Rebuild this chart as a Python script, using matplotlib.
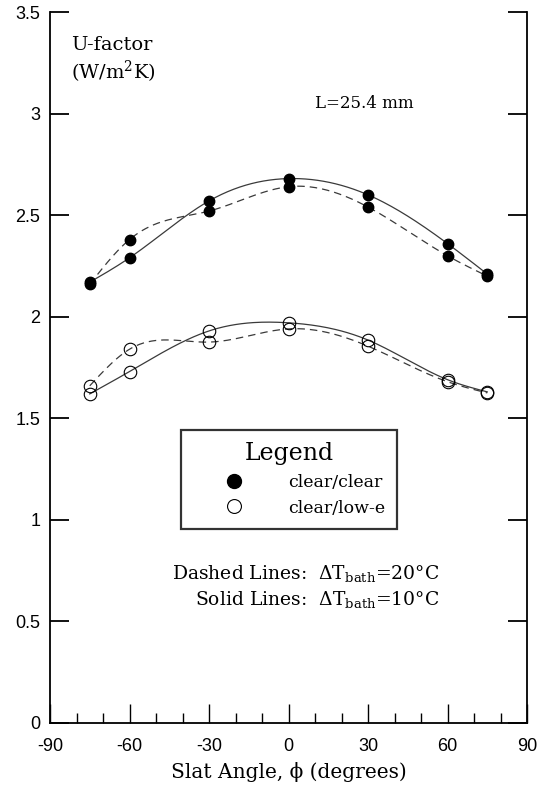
import numpy as np
import matplotlib
matplotlib.use("Agg")
import matplotlib.pyplot as plt
from matplotlib.lines import Line2D

plt.rcParams['mathtext.fontset'] = 'dejavuserif'
plt.rcParams['axes.unicode_minus'] = False

# slat angles (degrees)
angle = [-75, -60, -30, 0, 30, 60, 75]

# clear/clear glazing
cc_10 = [2.17, 2.29, 2.57, 2.68, 2.60, 2.36, 2.21]   # solid, dT bath = 10C
cc_20 = [2.16, 2.38, 2.52, 2.64, 2.54, 2.30, 2.20]   # dashed, dT bath = 20C

# clear/low-e glazing
le_10 = [1.62, 1.73, 1.93, 1.97, 1.885, 1.69, 1.63]
le_20 = [1.66, 1.84, 1.875, 1.94, 1.855, 1.68, 1.625]

yticks = [0, 0.5, 1, 1.5, 2, 2.5, 3, 3.5]
ytick_labels = ['0', '0.5', '1', '1.5', '2', '2.5', '3', '3.5']
xticks = [-90, -60, -30, 0, 30, 60, 90]


def natural_spline(x, y, n=200):
    # plain natural cubic spline, just to draw the smooth curve
    x = np.asarray(x, float)
    y = np.asarray(y, float)
    k = len(x)
    h = np.diff(x)
    A = np.zeros((k, k))
    b = np.zeros(k)
    A[0, 0] = 1
    A[-1, -1] = 1
    for i in range(1, k - 1):
        A[i, i - 1] = h[i - 1]
        A[i, i] = 2 * (h[i - 1] + h[i])
        A[i, i + 1] = h[i]
        b[i] = 6 * ((y[i + 1] - y[i]) / h[i] - (y[i] - y[i - 1]) / h[i - 1])
    M = np.linalg.solve(A, b)
    xs = np.linspace(x[0], x[-1], n)
    idx = np.clip(np.searchsorted(x, xs) - 1, 0, k - 2)
    x0, x1 = x[idx], x[idx + 1]
    hh = x1 - x0
    t0 = x1 - xs
    t1 = xs - x0
    ys = (M[idx] * t0**3 / (6 * hh) + M[idx + 1] * t1**3 / (6 * hh)
          + (y[idx] / hh - M[idx] * hh / 6) * t0
          + (y[idx + 1] / hh - M[idx + 1] * hh / 6) * t1)
    return xs, ys


fig = plt.figure(figsize=(5.46, 7.86), dpi=100)
ax = fig.add_axes([0.0916, 0.0802, 0.8736, 0.9045])

line_col = '#3a3a3a'
for ys, style in [(cc_10, '-'), (cc_20, '--'), (le_10, '-'), (le_20, '--')]:
    sx, sy = natural_spline(angle, ys)
    if style == '-':
        ax.plot(sx, sy, color=line_col, lw=0.9)
    else:
        ax.plot(sx, sy, color=line_col, lw=0.9, dashes=(6, 4))

ax.plot(angle, cc_10, 'o', color='black', ms=7.5, zorder=3)
ax.plot(angle, cc_20, 'o', color='black', ms=7.5, zorder=3)
ax.plot(angle, le_10, 'o', mfc='none', mec='black', mew=0.8, ms=9, zorder=3)
ax.plot(angle, le_20, 'o', mfc='none', mec='black', mew=0.8, ms=9, zorder=3)

ax.set_xlim(-90, 90)
ax.set_ylim(0, 3.5)
ax.set_xticks(xticks)
ax.set_xticks(np.arange(-80, 90, 10), minor=True)
ax.set_yticks(yticks)
ax.set_yticklabels(ytick_labels)

ax.spines['top'].set_visible(False)
for s in ['left', 'right', 'bottom']:
    ax.spines[s].set_linewidth(1.3)

ax.tick_params(axis='y', which='major', direction='in', length=14, width=1.3,
               left=True, right=True, pad=7)
ax.tick_params(axis='x', which='major', direction='in', length=14, width=1.0, pad=11)
ax.tick_params(axis='x', which='minor', direction='in', length=7, width=1.0)
ax.tick_params(axis='both', labelsize=13)
for lab in ax.get_xticklabels() + ax.get_yticklabels():
    lab.set_family('Liberation Sans')

serif = 'DejaVu Serif'
ax.set_xlabel('Slat Angle, ϕ (degrees)', family=serif, fontsize=14.5, labelpad=5)

ax.text(-82, 3.34, 'U-factor', family=serif, fontsize=14, va='center')
ax.text(-82, 3.207, '(W/m$^2$K)', family=serif, fontsize=14, va='center')
ax.text(10, 3.05, 'L=25.4 mm', family=serif, fontsize=12, va='center')

ax.text(57, 0.734, r'Dashed Lines:  $\Delta$T$_{\rm bath}$=20°C', family=serif,
        fontsize=13.5, ha='right', va='center')
ax.text(57, 0.606, r'Solid Lines:  $\Delta$T$_{\rm bath}$=10°C', family=serif,
        fontsize=13.5, ha='right', va='center')

handles = [Line2D([], [], ls='none', marker='o', color='black', ms=10),
           Line2D([], [], ls='none', marker='o', mfc='none', mec='black', mew=0.8, ms=10)]
leg = ax.legend(handles, ['clear/clear', 'clear/low-e'], title='Legend',
                loc='upper left', bbox_to_anchor=(0.275, 0.412),
                prop={'family': serif, 'size': 12.5},
                title_fontproperties={'family': serif, 'size': 17},
                frameon=True, fancybox=False, edgecolor='black',
                borderpad=0.7, handletextpad=0.75, labelspacing=0.5,
                handlelength=4.7, borderaxespad=0)
leg.get_frame().set_linewidth(1.6)

fig.savefig('out.png', dpi=100)
